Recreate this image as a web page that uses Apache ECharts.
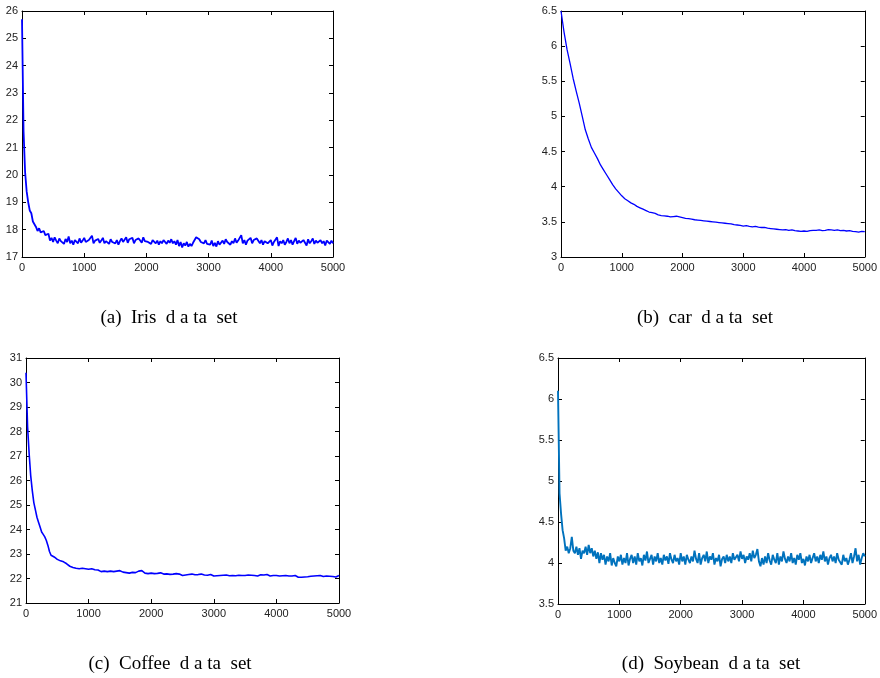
<!DOCTYPE html>
<html>
<head>
<meta charset="utf-8">
<script src="https://cdn.jsdelivr.net/npm/echarts@6/dist/echarts.min.js"></script>
<style>html,body{margin:0;padding:0;background:#fff}#c{width:880px;height:678px}</style>
</head>
<body>
<div id="c"></div>
<script>
// iteration step between stored samples
const stepA = 25, stepB = 50, stepC = 25, stepD = 25;

const irisValues = [
25.7,21.6,20.1,19.4,19.0,18.7,18.6,18.3,18.2,18.1,17.95,18.05,17.9,17.85,17.95,17.8,17.75,17.85,17.6,17.7,
17.55,17.72,17.6,17.5,17.68,17.58,17.62,17.48,17.66,17.55,
17.75,17.5,17.6,17.45,17.62,17.55,17.5,17.68,17.52,17.6,
17.7,17.55,17.48,17.62,17.58,17.78,17.5,17.6,17.55,17.66,
17.52,17.6,17.7,17.5,17.58,17.62,17.48,17.65,17.55,17.6,
17.5,17.62,17.45,17.58,17.68,17.55,17.6,17.72,17.52,17.65,
17.58,17.7,17.5,17.62,17.55,17.68,17.6,17.52,17.72,17.58,
17.65,17.55,17.6,17.48,17.62,17.55,17.5,17.6,17.45,17.58,
17.5,17.62,17.55,17.48,17.6,17.52,17.65,17.5,17.58,17.45,
17.62,17.4,17.55,17.35,17.5,17.42,17.55,17.38,17.48,17.4,
17.52,17.45,17.72,17.78,17.65,17.55,17.6,17.5,17.62,17.48,
17.55,17.45,17.6,17.4,17.52,17.38,17.58,17.45,17.5,17.6,
17.48,17.65,17.55,17.6,17.45,17.58,17.5,17.68,17.52,17.6,
17.55,17.8,17.5,17.62,17.45,17.6,17.55,17.7,17.5,17.62,
17.55,17.68,17.75,17.5,17.62,17.45,17.58,17.65,17.5,17.55,
17.62,17.42,17.55,17.48,17.72,17.4,17.58,17.5,17.62,17.45,
17.55,17.68,17.5,17.62,17.45,17.58,17.7,17.48,17.6,17.52,
17.45,17.62,17.55,17.42,17.65,17.5,17.58,17.68,17.48,17.6,
17.52,17.45,17.62,17.5,17.58,17.42,17.6,17.55,17.48,17.6,
17.5
];

const carValues = [
6.5,6.2,5.95,5.75,5.54,5.36,5.19,5.0,4.81,4.68,
4.56,4.48,4.4,4.31,4.24,4.17,4.1,4.03,3.97,3.92,
3.87,3.83,3.8,3.77,3.75,3.72,3.7,3.68,3.66,3.64,
3.63,3.62,3.6,3.59,3.585,3.58,3.57,3.575,3.58,3.57,
3.56,3.55,3.545,3.54,3.53,3.525,3.52,3.515,3.51,3.505,
3.5,3.495,3.49,3.485,3.48,3.475,3.47,3.46,3.455,3.45,
3.44,3.445,3.435,3.43,3.435,3.425,3.42,3.42,3.41,3.405,
3.4,3.395,3.39,3.385,3.39,3.38,3.385,3.375,3.37,3.365,
3.37,3.365,3.375,3.38,3.38,3.385,3.375,3.38,3.39,3.385,
3.38,3.385,3.375,3.38,3.37,3.375,3.365,3.36,3.355,3.365,
3.36
];

const coffeeValues = [
30.4,28.2,27.1,26.2,25.6,25.1,24.8,24.5,24.3,24.1,23.9,23.8,23.7,23.55,23.35,23.1,22.95,22.9,22.88,22.82,
22.78,22.8,22.72,22.75,22.68,22.7,22.6,22.55,22.5,22.52,
22.45,22.48,22.42,22.44,22.4,22.38,22.42,22.36,22.4,22.35,
22.38,22.34,22.4,22.32,22.36,22.3,22.35,22.32,22.28,22.34,
22.3,22.36,22.28,22.33,22.3,22.35,22.28,22.32,22.3,22.26,
22.32,22.28,22.26,22.3,22.24,22.28,22.22,22.27,22.25,22.3,
22.24,22.28,22.3,22.25,22.32,22.27,22.22,22.26,22.2,22.24,
22.22,22.26,22.2,22.24,22.21,22.18,22.23,22.2,22.18,22.22,
22.19,22.22,22.17,22.2,22.18,22.16,22.2,22.15,22.18,22.14,
22.12,22.1,22.14,22.11,22.16,22.12,22.18,22.13,22.15,22.12,
22.16,22.13,22.18,22.12,22.14,22.1,22.13,22.11,22.16,22.12,
22.1,22.13,22.11,22.15,22.12,22.09,22.13,22.1,22.14,22.08,
22.11,22.09,22.12,22.08,22.11,22.1,22.13,22.09,22.12,22.1,
22.12,22.1,22.14,22.11,22.13,22.15,22.12,22.14,22.1,22.13,
22.15,22.11,22.14,22.12,22.16,22.13,22.1,22.14,22.12,22.15,
22.12,22.14,22.1,22.13,22.11,22.09,22.12,22.08,22.1,22.12,
22.1,22.16,22.12,22.08,22.05,22.07,22.05,22.08,22.06,22.09,
22.07,22.05,22.09,22.06,22.1,22.08,22.11,22.09,22.12,22.1,
22.08,22.12,22.1,22.13,22.09,22.11,22.08,22.12,22.06,22.1,
22.12
];

const soybeanValues = [
6.1,4.85,4.6,4.4,4.3,4.15,4.2,4.12,4.18,4.32,4.15,4.12,4.2,4.1,4.18,4.05,4.15,4.12,4.2,4.1,
4.22,4.12,4.18,4.08,4.15,4.05,4.13,4.0,4.12,4.04,
4.1,3.98,4.08,4.02,4.12,3.97,4.06,4.0,3.96,4.08,
4.02,4.1,3.98,4.06,4.0,4.12,3.97,4.05,4.1,4.0,
4.08,3.98,4.12,4.02,4.06,3.97,4.1,4.03,4.14,4.0,
4.05,4.1,3.98,4.08,4.02,4.12,4.0,4.06,3.98,4.1,
4.03,4.08,3.99,4.12,4.04,4.0,4.1,4.02,4.06,3.98,
4.12,4.02,4.08,3.98,4.1,4.04,4.0,4.08,4.02,4.15,
4.05,4.0,4.12,3.98,4.06,4.1,4.02,4.14,4.0,4.08,
4.04,4.12,3.98,4.06,4.02,4.1,3.96,4.05,4.08,4.0,
4.1,4.02,4.08,4.0,4.12,4.04,4.06,4.1,4.02,4.14,
4.05,4.1,4.0,4.08,4.04,4.12,4.02,4.15,4.06,4.1,
4.17,4.02,3.96,4.06,3.98,4.08,4.0,4.12,4.03,3.98,
4.1,4.04,4.0,4.12,3.98,4.08,4.02,4.14,4.05,4.0,
4.08,4.02,4.12,4.0,4.06,3.98,4.1,4.04,4.12,4.0,
4.05,3.97,4.08,4.02,4.1,4.0,4.06,4.12,4.02,4.08,
4.0,4.1,4.04,4.14,4.02,4.08,3.98,4.06,4.1,4.02,
4.08,4.0,4.12,4.04,4.06,3.98,4.1,4.02,4.06,3.98,
4.04,4.12,4.0,4.08,4.18,4.02,4.1,3.98,4.06,4.12,
4.08
];

const captions = ['(a)  Iris  d a ta  set', '(b)  car  d a ta  set', '(c)  Coffee  d a ta  set', '(d)  Soybean  d a ta  set'];
const yRanges = [[17, 26, 1], [3, 6.5, 0.5], [21, 31, 1], [3.5, 6.5, 0.5]];
const xRange = [0, 5000, 1000];

const panels = [
  {vals: irisValues, step: stepA, color: '#0000ff', lw: 1.8, grid: {left: 22, top: 11, width: 311, height: 246}, cap: [169, 318]},
  {vals: carValues, step: stepB, color: '#0000ff', lw: 1.3, grid: {left: 561, top: 11, width: 311, height: 246}, cap: [705, 318]},
  {vals: coffeeValues, step: stepC, color: '#0000ff', lw: 1.6, grid: {left: 26, top: 358, width: 313, height: 245}, cap: [170, 664]},
  {vals: soybeanValues, step: stepD, color: '#0072bd', lw: 1.9, grid: {left: 558, top: 358, width: 316, height: 246}, cap: [711, 664]}
];

const labelStyle = {color: '#222', fontSize: 11, fontFamily: 'Liberation Sans, Arial, sans-serif', formatter: v => String(v)};
const grids = [], xAxes = [], yAxes = [], series = [], graphics = [];
panels.forEach((p, i) => {
  grids.push(Object.assign({containLabel: false}, p.grid));
  const yr = yRanges[i];
  const common = {
    type: 'value', gridIndex: i,
    axisLine: {show: true, onZero: false, lineStyle: {color: '#000', width: 1}},
    axisTick: {show: true, inside: true, length: 4, lineStyle: {color: '#000'}},
    splitLine: {show: false}
  };
  xAxes.push(Object.assign({}, common, {position: 'bottom', min: xRange[0], max: xRange[1], interval: xRange[2],
    axisLabel: Object.assign({show: true, margin: 5, showMinLabel: true, showMaxLabel: true}, labelStyle)}));
  xAxes.push(Object.assign({}, common, {position: 'top', min: xRange[0], max: xRange[1], interval: xRange[2],
    axisLabel: {show: false}}));
  yAxes.push(Object.assign({}, common, {position: 'left', min: yr[0], max: yr[1], interval: yr[2],
    axisLabel: Object.assign({show: true, margin: 4, showMinLabel: true, showMaxLabel: true}, labelStyle)}));
  yAxes.push(Object.assign({}, common, {position: 'right', min: yr[0], max: yr[1], interval: yr[2],
    axisLabel: {show: false}}));
  series.push({
    type: 'line', xAxisIndex: 2 * i, yAxisIndex: 2 * i,
    data: p.vals.map((v, k) => [k * p.step, v]),
    showSymbol: false, symbol: 'none',
    lineStyle: {color: p.color, width: p.lw},
    z: 1
  });
  graphics.push({
    type: 'text', x: p.cap[0], y: p.cap[1],
    style: {text: captions[i], fill: '#000', font: '19px "Liberation Serif", "DejaVu Serif", serif',
      textAlign: 'center', textVerticalAlign: 'middle'}
  });
});

const chart = echarts.init(document.getElementById('c'), null, {renderer: 'canvas'});
chart.setOption({
  animation: false,
  backgroundColor: '#fff',
  grid: grids,
  xAxis: xAxes,
  yAxis: yAxes,
  series: series,
  graphic: graphics
});
</script>
</body>
</html>
